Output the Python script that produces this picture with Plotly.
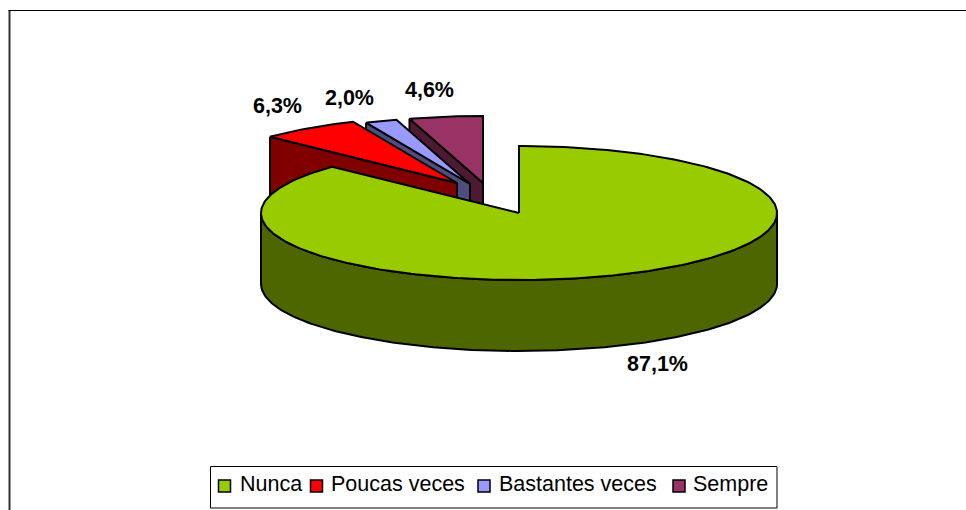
import numpy as np
import plotly.graph_objects as go

categories = ["Nunca", "Poucas veces", "Bastantes veces", "Sempre"]
values = [87.1, 6.3, 2.0, 4.6]
value_labels = ["87,1%", "6,3%", "2,0%", "4,6%"]
top_colors = ["#99CC00", "#FF0000", "#9999FF", "#993366"]
side_colors = ["#4D6600", "#800000", "#4D4D80", "#4D1933"]

CX, CY, RX, RY, DEPTH = 519, 213, 258, 67, 71
apexes = [(519, 213), (457, 183), (470, 184), (483, 183)]
label_pos = [(657.5, 365.5), (277.5, 107.5), (349.5, 99.5), (429.5, 91.5)]
legend_swatch_x = [224.5, 316.5, 484, 679]
legend_text_x = [240, 331, 499, 693]
LEGEND_Y = 486


def rim(a0, a1, apex):
    t = np.radians(np.linspace(a0, a1, max(int(abs(a1 - a0)) + 2, 3)))
    return apex[0] + RX * np.sin(t), apex[1] - RY * np.cos(t)


def poly(x, y, color, fig):
    fig.add_trace(go.Scatter(x=list(x), y=list(y), mode="lines", fill="toself",
                             fillcolor=color, line=dict(color="black", width=2),
                             showlegend=False, hoverinfo="skip"))


fig = go.Figure()
edges = np.concatenate([[0], np.cumsum(values)]) / sum(values) * 360

for i in [3, 2, 1]:
    a0, a1 = edges[i], edges[i + 1]
    ax, ay = apexes[i]
    rx, ry = rim(a0, a1, apexes[i])
    poly([rx[0], ax, ax, rx[0], rx[0]],
         [ry[0], ay, ay + DEPTH, ry[0] + DEPTH, ry[0]], side_colors[i], fig)
    poly(np.r_[ax, rx, ax], np.r_[ay, ry, ay], top_colors[i], fig)

a0, a1 = edges[0], edges[1]
wx, wy = rim(90, 270, apexes[0])
poly(np.r_[wx, wx[::-1], wx[0]], np.r_[wy, wy[::-1] + DEPTH, wy[0]], side_colors[0], fig)
rx, ry = rim(a0, a1, apexes[0])
poly(np.r_[CX, rx, CX], np.r_[CY, ry, CY], top_colors[0], fig)

fig.add_trace(go.Scatter(x=[p[0] for p in label_pos], y=[p[1] for p in label_pos],
                         mode="text", text=value_labels, showlegend=False, hoverinfo="skip",
                         textposition="middle center",
                         textfont=dict(family="Liberation Sans", size=21.5, color="black",
                                       weight="bold")))

# legend
fig.add_trace(go.Scatter(x=legend_swatch_x, y=[LEGEND_Y] * 4, mode="markers",
                         marker=dict(symbol="square", size=12, color=top_colors,
                                     line=dict(color="black", width=1.5)),
                         showlegend=False, hoverinfo="skip"))
fig.add_trace(go.Scatter(x=legend_text_x, y=[LEGEND_Y] * 4, mode="text", text=categories,
                         textposition="middle right", showlegend=False, hoverinfo="skip",
                         textfont=dict(family="Liberation Sans", size=21.5, color="black")))

fig.update_layout(
    width=966, height=510, margin=dict(l=0, r=0, t=0, b=0),
    paper_bgcolor="white", plot_bgcolor="white",
    xaxis=dict(range=[0, 966], visible=False, fixedrange=True),
    yaxis=dict(range=[510, 0], visible=False, fixedrange=True),
    shapes=[dict(type="line", x0=9.5, x1=9.5, y0=10, y1=510, layer="below",
                 line=dict(color="#333333", width=2)),
            dict(type="line", x0=8.5, x1=966, y0=10.5, y1=10.5, layer="below",
                 line=dict(color="black", width=1)),
            dict(type="rect", x0=210.5, x1=777, y0=466.5, y1=508, layer="below",
                 fillcolor="white", line=dict(color="black", width=1))],
    showlegend=False,
)
fig.write_html("out.html", post_script="document.body.style.margin='0';window.dispatchEvent(new Event('resize'));",
               config={"displayModeBar": False})
